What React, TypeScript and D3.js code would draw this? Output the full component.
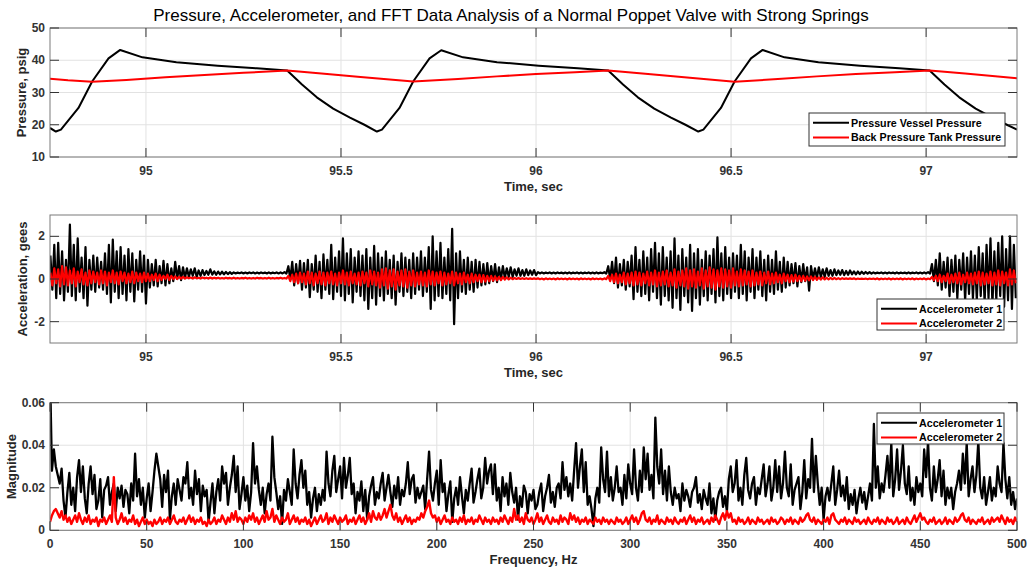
import React from 'react';
import * as d3 from 'd3';

const W = 1029;
const H = 575;
const PL = 50;
const PR = 1017;
const FONT = '"Liberation Sans", Arial, Helvetica, sans-serif';

// ---- panel 1: pressure traces (time, sec / psig) ----
const pvTime = [
  94.754, 94.769, 94.782, 94.827, 94.862, 94.904, 94.934, 94.991, 95.078, 95.184, 95.284, 95.362,
  95.4, 95.438, 95.48, 95.523, 95.56, 95.592,
  95.605, 95.65, 95.685, 95.727, 95.757, 95.813, 95.9, 96.007, 96.107, 96.185,
  96.223, 96.261, 96.303, 96.346, 96.383, 96.416,
  96.429, 96.474, 96.509, 96.551, 96.581, 96.637, 96.724, 96.831, 96.931, 97.009,
  97.047, 97.085, 97.127, 97.17, 97.207, 97.233,
];
const pvPsig = [
  19.0, 17.9, 18.5, 25.2, 33.4, 40.6, 43.2, 40.9, 39.4, 38.3, 37.5, 36.8,
  32.5, 28.5, 25.0, 22.2, 20.0, 17.9,
  18.5, 25.2, 33.4, 40.6, 43.1, 40.9, 39.4, 38.3, 37.5, 36.8,
  32.5, 28.5, 25.0, 22.2, 20.0, 17.9,
  18.5, 25.2, 33.4, 40.6, 43.2, 40.9, 39.4, 38.3, 37.5, 36.8,
  32.5, 28.5, 25.0, 22.2, 20.0, 18.5,
];
const bpTime = [
  94.754, 94.8, 94.862, 94.95, 95.05, 95.15, 95.25, 95.362, 95.45, 95.55, 95.685, 95.8, 95.9,
  96.0, 96.1, 96.185, 96.28, 96.38, 96.509, 96.62, 96.72, 96.82, 96.92, 97.009, 97.1, 97.233,
];
const bpPsig = [
  34.3, 33.8, 33.3, 33.9, 34.7, 35.4, 36.1, 36.8, 35.9, 34.8, 33.4, 34.2, 35.0,
  35.7, 36.3, 36.8, 35.8, 34.7, 33.3, 34.2, 35.0, 35.7, 36.3, 36.8, 35.9, 34.4,
];

// ---- panel 2: accelerometers, per 10 ms bin peak (hi) and trough (lo), gees ----
const accT0 = 94.755;
const accDt = 0.01;
const acc1Hi = [
  1.1, 1.6, 1.7, 1.3, 0.9, 2.55, 1.6, 1.9, 1.0, 1.5, 0.9, 1.1, 1.0, 0.8, 1.2, 1.6, 1.85, 1.3, 1.5, 1.1, 1.4, 1.2, 0.9, 1.3, 1.1,
  0.9, 0.7, 0.9, 0.6, 0.85, 0.7, 0.5, 0.8, 0.6, 0.55,
  0.5, 0.45, 0.5, 0.4, 0.42, 0.38, 0.45, 0.36, 0.35, 0.34, 0.33, 0.32,
  0.31, 0.3, 0.31, 0.3, 0.31, 0.31, 0.3, 0.31, 0.3, 0.31, 0.3, 0.31, 0.31, 0.32,
  0.6, 0.8, 0.7, 0.85, 0.75, 0.9, 0.7, 1.1, 0.8, 1.15, 0.9, 1.6, 1.0, 1.3, 1.9, 1.2, 1.4, 1.0, 1.3, 1.1,
  1.4, 1.0, 1.55, 1.2, 1.0, 1.3, 0.9, 1.1, 0.8, 1.2, 1.0, 0.9, 1.2, 1.0, 1.3, 1.0, 1.5, 2.0, 1.3, 1.7,
  1.0, 1.4, 2.35, 1.2, 1.3, 0.9, 1.0, 0.8, 0.9,
  0.8, 0.7, 0.75, 0.6, 0.7, 0.55, 0.6, 0.5, 0.55, 0.45, 0.5, 0.42, 0.45, 0.4, 0.42,
  0.32, 0.31, 0.3, 0.31, 0.3, 0.31, 0.3, 0.3, 0.31, 0.3, 0.31, 0.3, 0.3, 0.31, 0.3, 0.31, 0.3, 0.32,
  0.6, 0.8, 1.0, 0.7, 0.9, 0.8, 1.1, 1.5, 0.9, 1.3, 1.0, 1.4, 1.7, 1.2, 1.5, 1.0, 1.3, 1.9, 1.1, 1.4,
  1.0, 1.6, 1.2, 1.4, 0.9, 1.3, 1.1, 1.4, 1.95, 1.2, 1.5, 1.0, 1.2, 1.1, 1.6, 1.3, 1.0, 1.4, 1.0, 1.3,
  0.9, 1.1, 0.9, 1.3, 0.8, 1.0,
  0.8, 0.7, 0.75, 0.6, 0.7, 0.55, 0.6, 0.5, 0.55, 0.45, 0.5, 0.42, 0.45, 0.4, 0.42, 0.38, 0.4, 0.36, 0.35, 0.34, 0.33, 0.32,
  0.31, 0.3, 0.31, 0.3, 0.31, 0.3, 0.31, 0.3, 0.3, 0.31, 0.3, 0.31, 0.3, 0.31, 0.32,
  0.7, 0.9, 1.2, 0.8, 1.0, 0.9, 1.1, 0.9, 1.2, 1.0, 1.3, 1.1, 1.5, 1.2, 1.6, 1.9, 1.3, 1.7, 2.0, 1.4, 2.0, 1.6,
];
const acc1Lo = [
  -0.5, -0.9, -0.7, -1.0, -0.6, -0.8, -1.0, -0.6, -0.9, -1.25, -0.5, -0.6, -0.4, -0.5, -0.7, -1.1, -0.6, -0.9, -0.7, -1.0, -0.6, -1.05, -0.5, -0.6, -1.15,
  -0.4, -0.3, -0.35, -0.2, -0.3, -0.2, -0.1, 0.0, -0.05, 0.05,
  0.1, 0.15, 0.1, 0.15, 0.18, 0.2, 0.2, 0.2, 0.22, 0.22, 0.23, 0.24,
  0.26, 0.27, 0.26, 0.26, 0.27, 0.26, 0.26, 0.27, 0.26, 0.26, 0.27, 0.26, 0.26, 0.25,
  0.0, -0.3, -0.2, -0.5, -0.4, -0.85, -0.5, -0.6, -0.9, -0.5, -0.7, -0.95, -0.6, -0.8, -1.0, -0.7, -1.1, -0.6, -0.8, -1.0,
  -1.4, -0.9, -1.2, -0.8, -1.0, -0.7, -0.9, -1.2, -0.6, -0.8, -0.6, -0.9, -0.7, -0.5, -0.8, -0.6, -1.4, -1.0, -0.8, -0.9,
  -0.7, -1.0, -2.12, -0.9, -0.6, -0.7, -0.5, -0.6, -0.4,
  -0.3, -0.25, -0.2, -0.1, -0.15, 0.0, 0.05, 0.1, 0.1, 0.15, 0.15, 0.15, 0.18, 0.2, 0.18,
  0.26, 0.26, 0.27, 0.26, 0.26, 0.27, 0.26, 0.26, 0.26, 0.27, 0.26, 0.26, 0.27, 0.26, 0.26, 0.26, 0.27, 0.25,
  0.0, -0.2, -0.4, -0.3, -0.5, -0.35, -0.95, -0.6, -0.8, -0.7, -1.0, -0.6, -0.9, -1.2, -0.8, -1.0, -1.35, -0.9, -1.45, -0.8,
  -1.1, -1.5, -0.9, -1.2, -0.8, -1.0, -0.7, -1.1, -0.8, -1.0, -0.7, -0.9, -0.6, -0.9, -0.7, -1.0, -0.6, -0.9, -0.5, -0.8,
  -1.0, -0.6, -0.7, -0.5, -0.6, -0.4,
  -0.3, -0.2, -0.35, -0.15, -0.1, -0.55, 0.0, 0.05, 0.1, 0.1, 0.15, 0.15, 0.18, 0.2, 0.18, 0.2, 0.22, 0.22, 0.23, 0.24, 0.25, 0.25,
  0.26, 0.27, 0.26, 0.26, 0.27, 0.26, 0.26, 0.27, 0.26, 0.26, 0.27, 0.26, 0.26, 0.26, 0.25,
  -0.1, -0.3, -0.5, -0.4, -0.8, -0.6, -0.9, -0.5, -1.0, -0.7, -0.9, -1.0, -0.8, -1.1, -0.9, -1.2, -1.0, -0.8, -1.3, -1.0, -1.4, -0.9,
];
const acc2Hi = [
  0.3, 0.5, 0.45, 0.6, 0.55, 0.4, 0.5, 0.35, 0.45, 0.3, 0.4, 0.35, 0.3, 0.4, 0.35, 0.3, 0.4, 0.3, 0.35, 0.3, 0.25, 0.35, 0.3, 0.25, 0.3,
  0.25, 0.2, 0.25, 0.2, 0.15, 0.2, 0.15, 0.12, 0.1, 0.1,
  0.08, 0.07, 0.08, 0.06, 0.07, 0.06, 0.07, 0.06, 0.06, 0.05, 0.06, 0.05, 0.06, 0.05, 0.05, 0.06, 0.05, 0.05, 0.06, 0.05,
  0.05, 0.06, 0.05, 0.05, 0.06, 0.05,
  0.15, 0.2, 0.25, 0.3, 0.25, 0.35, 0.3, 0.25, 0.35, 0.3, 0.3, 0.35, 0.25, 0.3, 0.4, 0.3, 0.35, 0.25, 0.3, 0.35,
  0.3, 0.4, 0.35, 0.3, 0.45, 0.5, 0.4, 0.45, 0.35, 0.4, 0.45, 0.35, 0.4, 0.3, 0.35, 0.3, 0.4, 0.35, 0.3, 0.35,
  0.3, 0.25, 0.35, 0.3, 0.25, 0.3, 0.2, 0.25, 0.2,
  0.2, 0.18, 0.15, 0.15, 0.12, 0.1, 0.1, 0.08, 0.06, 0.05, 0.05, 0.04, 0.04, 0.03, 0.03,
  0.03, 0.02, 0.03, 0.02, 0.02, 0.03, 0.02, 0.02, 0.03, 0.02, 0.02, 0.03, 0.02, 0.02, 0.03, 0.02, 0.02, 0.03,
  0.15, 0.2, 0.25, 0.2, 0.3, 0.25, 0.3, 0.35, 0.3, 0.25, 0.35, 0.3, 0.4, 0.3, 0.35, 0.4, 0.3, 0.45, 0.35, 0.4,
  0.5, 0.4, 0.45, 0.35, 0.5, 0.4, 0.55, 0.45, 0.4, 0.5, 0.45, 0.4, 0.5, 0.35, 0.45, 0.4, 0.35, 0.4, 0.3, 0.35,
  0.3, 0.35, 0.25, 0.3, 0.2, 0.25,
  0.2, 0.18, 0.2, 0.15, 0.15, 0.12, 0.12, 0.1, 0.08, 0.08, 0.06, 0.05, 0.05, 0.04, 0.04, 0.03, 0.03, 0.03, 0.02, 0.02, 0.02, 0.02,
  0.02, 0.03, 0.02, 0.02, 0.03, 0.02, 0.02, 0.03, 0.02, 0.02, 0.03, 0.02, 0.02, 0.03, 0.02,
  0.1, 0.15, 0.2, 0.15, 0.25, 0.2, 0.25, 0.3, 0.2, 0.3, 0.25, 0.3, 0.35, 0.3, 0.25, 0.35, 0.3, 0.4, 0.35, 0.3, 0.45, 0.4,
];
const acc2Lo = [
  -0.3, -0.2, -0.35, -0.25, -0.3, -0.2, -0.35, -0.15, -0.25, -0.3, -0.2, -0.15, -0.25, -0.2, -0.3, -0.15, -0.2, -0.25, -0.1, -0.2, -0.15, -0.2, -0.1, -0.15, -0.1,
  -0.1, -0.05, -0.1, -0.05, 0, -0.05, 0, 0, 0.02, 0.02,
  0.03, 0.02, 0.03, 0.02, 0.03, 0.02, 0.02, 0.03, 0.02, 0.02, 0.03, 0.02, 0.02, 0.02, 0.03, 0.02, 0.02, 0.02, 0.03, 0.02,
  0.02, 0.02, 0.02, 0.03, 0.02, 0.02,
  -0.1, -0.15, -0.2, -0.15, -0.25, -0.2, -0.3, -0.2, -0.25, -0.3, -0.2, -0.25, -0.3, -0.2, -0.25, -0.3, -0.2, -0.25, -0.3, -0.2,
  -0.35, -0.25, -0.3, -0.4, -0.3, -0.45, -0.35, -0.5, -0.3, -0.35, -0.4, -0.3, -0.35, -0.25, -0.3, -0.35, -0.25, -0.3, -0.2, -0.3,
  -0.25, -0.2, -0.3, -0.2, -0.25, -0.15, -0.2, -0.15, -0.1,
  -0.15, -0.12, -0.1, -0.08, -0.06, -0.05, -0.03, -0.02, -0.01, 0, 0, 0, 0, 0, 0,
  -0.01, -0.02, -0.01, -0.01, -0.02, -0.01, -0.01, -0.02, -0.01, -0.01, -0.02, -0.01, -0.01, -0.02, -0.01, -0.01, -0.02, -0.01,
  -0.1, -0.15, -0.2, -0.15, -0.25, -0.2, -0.3, -0.25, -0.3, -0.2, -0.3, -0.25, -0.35, -0.3, -0.25, -0.35, -0.3, -0.4, -0.3, -0.35,
  -0.45, -0.35, -0.4, -0.3, -0.45, -0.35, -0.4, -0.5, -0.35, -0.4, -0.35, -0.4, -0.3, -0.35, -0.3, -0.25, -0.35, -0.3, -0.25, -0.3,
  -0.2, -0.25, -0.2, -0.15, -0.2, -0.1,
  -0.15, -0.12, -0.1, -0.1, -0.08, -0.06, -0.05, -0.04, -0.03, -0.02, -0.02, -0.01, -0.01, -0.01, 0, 0, 0, -0.01, 0, 0, -0.01, 0,
  -0.01, -0.02, -0.01, -0.01, -0.02, -0.01, -0.01, -0.02, -0.01, -0.01, -0.02, -0.01, -0.01, -0.02, -0.01,
  -0.05, -0.1, -0.15, -0.1, -0.2, -0.15, -0.2, -0.25, -0.15, -0.2, -0.25, -0.2, -0.3, -0.25, -0.2, -0.3, -0.25, -0.3, -0.2, -0.3, -0.25, -0.2,
];

// ---- panel 3: FFT magnitude x 1e-3, 1 Hz bins starting at 0 Hz ----
const fftAcc1 = [
  75, 28, 38, 30, 26, 22, 29, 14, 6, 18,
  27, 12, 20, 9, 25, 33, 18, 30, 15, 8,
  22, 30, 17, 26, 10, 14, 24, 6, 19, 21,
  25, 12, 18, 22, 9, 20, 15, 21, 11, 19,
  17, 8, 22, 14, 36, 16, 24, 12, 20, 6,
  15, 22, 9, 18, 28, 36, 30, 24, 11, 26,
  18, 28, 5, 16, 22, 12, 24, 19, 14, 25,
  22, 32, 15, 20, 12, 28, 17, 24, 9, 21,
  16, 19, 4, 13, 22, 8, 18, 24, 14, 30,
  22, 27, 12, 20, 26, 35, 18, 30, 10, 17,
  25, 14, 21, 9, 18, 41, 22, 30, 19, 12,
  20, 8, 17, 22, 14, 44, 25, 18, 10, 16,
  3, 19, 14, 24, 18, 12, 38, 22, 15, 26,
  33, 20, 28, 12, 18, 6, 15, 20, 9, 17,
  12, 19, 14, 37, 22, 16, 28, 35, 18, 24,
  30, 15, 34, 20, 26, 34, 17, 22, 8, 18,
  14, 23, 9, 19, 5, 16, 21, 25, 12, 18,
  15, 22, 27, 14, 20, 26, 18, 11, 21, 15,
  25, 12, 19, 16, 22, 32, 17, 24, 26, 13,
  20, 15, 18, 21, 10, 24, 37, 19, 14, 22,
  28, 12, 33, 18, 22, 9, 17, 23, 4, 15,
  20, 12, 25, 16, 8, 19, 14, 22, 29, 13,
  18, 24, 29, 15, 20, 34, 22, 28, 31, 17,
  31, 14, 20, 9, 25, 16, 22, 12, 27, 18,
  13, 20, 5, 16, 11, 21, 18, 8, 17, 14,
  19, 10, 12, 18, 22, 9, 16, 20, 26, 13,
  18, 11, 20, 22, 15, 32, 19, 25, 16, 22,
  14, 28, 41, 20, 30, 38, 18, 32, 12, 16,
  10, 2, 15, 20, 13, 39, 24, 18, 37, 16,
  25, 14, 20, 30, 18, 20, 12, 26, 15, 31,
  22, 17, 38, 20, 14, 28, 18, 39, 24, 36,
  19, 26, 15, 53, 30, 22, 38, 17, 28, 14,
  30, 18, 12, 20, 15, 17, 9, 22, 14, 19,
  16, 11, 18, 20, 25, 13, 17, 10, 19, 15,
  12, 22, 8, 15, 5, 14, 18, 20, 11, 16,
  9, 24, 30, 18, 22, 33, 14, 20, 12, 26,
  34, 19, 15, 22, 25, 12, 20, 17, 24, 31,
  16, 22, 30, 14, 20, 33, 18, 30, 15, 22,
  37, 20, 16, 31, 12, 19, 22, 25, 10, 18,
  33, 15, 24, 20, 43, 18, 35, 22, 12, 20,
  5, 16, 20, 14, 22, 30, 12, 19, 28, 16,
  21, 14, 25, 10, 17, 12, 19, 8, 15, 20,
  13, 18, 10, 16, 22, 14, 50, 20, 30, 15,
  22, 18, 26, 35, 20, 41, 16, 24, 38, 19,
  28, 40, 22, 17, 30, 14, 20, 12, 25, 18,
  22, 16, 38, 25, 42, 20, 14, 30, 18, 24,
  33, 16, 28, 12, 20, 15, 20, 10, 18, 22,
  28, 19, 36, 22, 41, 16, 24, 30, 18, 26,
  42, 20, 15, 25, 12, 18, 25, 14, 20, 16,
  30, 22, 18, 41, 24, 15, 25, 12, 18, 10,
  15,
];
const fftAcc2 = [
  4, 7, 9, 10, 8, 6, 9, 5, 7, 4,
  6, 3, 5, 7, 4, 8, 5, 3, 6, 4,
  7, 3, 5, 4, 6, 2, 5, 4, 6, 3,
  5, 7, 4, 25, 6, 3, 5, 8, 4, 6,
  3, 5, 4, 7, 3, 5, 2, 4, 6, 3,
  5, 3, 4, 2, 5, 3, 4, 6, 3, 5,
  4, 6, 3, 5, 7, 4, 3, 5, 4, 6,
  3, 5, 7, 4, 6, 3, 5, 4, 6, 3,
  4, 2, 5, 3, 4, 6, 3, 5, 4, 7,
  5, 3, 6, 4, 8, 5, 9, 4, 6, 5,
  3, 6, 4, 7, 5, 8, 4, 6, 3, 5,
  7, 4, 9, 5, 6, 10, 4, 7, 5, 3,
  6, 4, 5, 8, 3, 5, 7, 4, 6, 3,
  5, 4, 6, 3, 5, 2, 4, 6, 3, 5,
  7, 4, 5, 8, 3, 6, 4, 7, 5, 3,
  6, 4, 5, 7, 3, 5, 4, 6, 3, 5,
  7, 4, 6, 3, 5, 8, 4, 9, 6, 5,
  8, 5, 7, 10, 6, 9, 12, 7, 5, 8,
  4, 6, 3, 5, 7, 4, 6, 3, 5, 4,
  6, 5, 8, 6, 9, 11, 14, 8, 6, 7,
  4, 6, 3, 5, 7, 4, 5, 3, 6, 4,
  5, 3, 6, 4, 7, 3, 5, 4, 6, 3,
  5, 4, 7, 5, 3, 6, 4, 5, 3, 6,
  4, 5, 3, 6, 4, 7, 5, 3, 6, 4,
  10, 5, 7, 4, 6, 3, 8, 5, 4, 6,
  3, 5, 8, 4, 6, 3, 5, 7, 4, 3,
  6, 4, 5, 3, 7, 4, 6, 5, 3, 8,
  5, 7, 4, 6, 3, 5, 4, 6, 3, 5,
  4, 3, 6, 4, 5, 3, 6, 4, 5, 3,
  5, 4, 3, 6, 4, 5, 3, 4, 6, 3,
  5, 7, 4, 6, 3, 5, 8, 9, 5, 4,
  6, 3, 5, 4, 7, 3, 5, 4, 3, 6,
  4, 5, 3, 6, 4, 3, 5, 4, 6, 3,
  5, 7, 4, 6, 3, 5, 4, 6, 3, 4,
  5, 3, 6, 4, 7, 5, 3, 6, 8, 5,
  9, 6, 8, 4, 5, 3, 6, 4, 5, 3,
  4, 6, 3, 5, 4, 3, 6, 4, 5, 3,
  4, 5, 3, 6, 4, 5, 3, 4, 6, 5,
  3, 5, 4, 6, 3, 5, 4, 3, 6, 4,
  5, 7, 8, 5, 4, 6, 3, 5, 4, 3,
  5, 4, 6, 3, 7, 8, 5, 4, 3, 5,
  4, 6, 3, 5, 4, 3, 6, 4, 5, 3,
  4, 5, 3, 6, 4, 3, 5, 4, 6, 3,
  5, 4, 3, 6, 4, 5, 3, 4, 6, 3,
  4, 5, 3, 6, 4, 3, 5, 7, 4, 6,
  8, 5, 6, 4, 3, 5, 4, 6, 3, 4,
  5, 3, 4, 6, 3, 5, 4, 3, 6, 4,
  5, 7, 8, 5, 4, 6, 3, 5, 4, 3,
  5, 4, 6, 3, 4, 5, 3, 6, 4, 5,
  6, 4, 7, 5, 3, 6, 4, 5, 3, 6,
  4,
];

// ---- axes ticks ----
const timeTicks = [95, 95.5, 96, 96.5, 97];
const pressureTicks = [10, 20, 30, 40, 50];
const accTicks = [-2, 0, 2];
const freqTicks = [0, 50, 100, 150, 200, 250, 300, 350, 400, 450, 500];
const magTicks = [0, 0.02, 0.04, 0.06];

type Pt = [number, number];
type Series = { pts: Pt[]; color: string; width: number };
type Legend = { x0: number; x1: number; y0: number; y1: number; items: { text: string; color: string }[] };

const zip = (xs: number[], ys: number[]): Pt[] => xs.map((v, i) => [v, ys[i]] as Pt);

// peak/trough bins -> alternating samples
const zigzag = (hi: number[], lo: number[]): Pt[] => {
  const out: Pt[] = [];
  const n = Math.min(hi.length, lo.length);
  for (let i = 0; i < n; i++) {
    const t = accT0 + i * accDt;
    out.push([t, hi[i]]);
    out.push([t + accDt / 2, lo[i]]);
  }
  return out;
};

const fftPts = (mags: number[]): Pt[] => mags.map((m, f) => [f, m / 1000] as Pt);

interface PanelProps {
  id: string;
  top: number;
  bottom: number;
  xDomain: [number, number];
  yDomain: [number, number];
  xTicks: number[];
  yTicks: number[];
  xLabel: string;
  yLabel: string;
  yLabelX: number;
  series: Series[];
  legend: Legend;
}

const Panel: React.FC<PanelProps> = ({ id, top, bottom, xDomain, yDomain, xTicks, yTicks, xLabel, yLabel, yLabelX, series, legend }) => {
  const x = d3.scaleLinear().domain(xDomain).range([PL, PR]);
  const y = d3.scaleLinear().domain(yDomain).range([bottom, top]);
  const line = d3.line<Pt>().x(d => x(d[0])).y(d => y(d[1]));
  const tk = 9;
  const midY = (top + bottom) / 2;

  return (
    <g>
      <defs>
        <clipPath id={id}>
          <rect x={PL} y={top} width={PR - PL} height={bottom - top} />
        </clipPath>
      </defs>
      {xTicks.map(t => (
        <line key={'gx' + t} x1={x(t)} x2={x(t)} y1={top} y2={bottom} stroke="#e2e2e2" strokeWidth={1} />
      ))}
      {yTicks.map(t => (
        <line key={'gy' + t} x1={PL} x2={PR} y1={y(t)} y2={y(t)} stroke="#e2e2e2" strokeWidth={1} />
      ))}
      <g clipPath={`url(#${id})`}>
        {series.map((s, i) => (
          <path key={i} d={line(s.pts) || ''} fill="none" stroke={s.color} strokeWidth={s.width} strokeLinejoin="round" />
        ))}
      </g>
      <rect x={PL} y={top} width={PR - PL} height={bottom - top} fill="none" stroke="#7a7a7a" strokeWidth={1} />
      {xTicks.map(t => (
        <g key={'tx' + t}>
          <line x1={x(t)} x2={x(t)} y1={bottom} y2={bottom - tk} stroke="#333" />
          <line x1={x(t)} x2={x(t)} y1={top} y2={top + tk} stroke="#333" />
          <text x={x(t)} y={bottom + 18} textAnchor="middle" fontSize={12} fontWeight="bold" fill="#333">{String(t)}</text>
        </g>
      ))}
      {yTicks.map(t => (
        <g key={'ty' + t}>
          <line x1={PL} x2={PL + tk} y1={y(t)} y2={y(t)} stroke="#333" />
          <line x1={PR} x2={PR - tk} y1={y(t)} y2={y(t)} stroke="#333" />
          <text x={45} y={y(t) + 4} textAnchor="end" fontSize={12} fontWeight="bold" fill="#333">{String(t)}</text>
        </g>
      ))}
      <text x={(PL + PR) / 2} y={bottom + 34} textAnchor="middle" fontSize={13} fontWeight="bold" fill="#262626">{xLabel}</text>
      <text transform={`translate(${yLabelX},${midY}) rotate(-90)`} textAnchor="middle" fontSize={13} fontWeight="bold" fill="#262626">{yLabel}</text>
      <rect x={legend.x0} y={legend.y0} width={legend.x1 - legend.x0} height={legend.y1 - legend.y0} fill="#fff" stroke="#333" strokeWidth={1} />
      {legend.items.map((it, i) => {
        const cy = legend.y0 + 9.7 + 14.8 * i;
        return (
          <g key={it.text}>
            <line x1={legend.x0 + 4} x2={legend.x0 + 40} y1={cy} y2={cy} stroke={it.color} strokeWidth={2} />
            <text x={legend.x0 + 42} y={cy + 3.8} fontSize={10.7} fontWeight="bold" fill="#000">{it.text}</text>
          </g>
        );
      })}
    </g>
  );
};

export default function App() {
  const timeDomain: [number, number] = [94.754, 97.233];
  return (
    <div style={{ position: 'fixed', left: 0, top: 0 }}>
      <svg width={W} height={H} viewBox={`0 0 ${W} ${H}`} style={{ display: 'block', background: '#fff', fontFamily: FONT }}>
        <rect x={0} y={0} width={W} height={H} fill="#fff" />
        <text x={511} y={20.5} textAnchor="middle" fontSize={17} fill="#000">
          Pressure, Accelerometer, and FFT Data Analysis of a Normal Poppet Valve with Strong Springs
        </text>
        <Panel
          id="clipP"
          top={28}
          bottom={157}
          xDomain={timeDomain}
          yDomain={[10, 50]}
          xTicks={timeTicks}
          yTicks={pressureTicks}
          xLabel="Time, sec"
          yLabel="Pressure, psig"
          yLabelX={26}
          series={[
            { pts: zip(pvTime, pvPsig), color: '#000', width: 2 },
            { pts: zip(bpTime, bpPsig), color: '#f00', width: 2 },
          ]}
          legend={{
            x0: 809, x1: 1005, y0: 113, y1: 146,
            items: [
              { text: 'Pressure Vessel Pressure', color: '#000' },
              { text: 'Back Pressure Tank Pressure', color: '#f00' },
            ],
          }}
        />
        <Panel
          id="clipA"
          top={215}
          bottom={343}
          xDomain={timeDomain}
          yDomain={[-3, 3]}
          xTicks={timeTicks}
          yTicks={accTicks}
          xLabel="Time, sec"
          yLabel="Acceleration, gees"
          yLabelX={26.5}
          series={[
            { pts: zigzag(acc1Hi, acc1Lo), color: '#000', width: 2.2 },
            { pts: zigzag(acc2Hi, acc2Lo), color: '#f00', width: 2.2 },
          ]}
          legend={{
            x0: 877, x1: 1004, y0: 299, y1: 330,
            items: [
              { text: 'Accelerometer 1', color: '#000' },
              { text: 'Accelerometer 2', color: '#f00' },
            ],
          }}
        />
        <Panel
          id="clipF"
          top={402.7}
          bottom={530.3}
          xDomain={[0, 500]}
          yDomain={[0, 0.06]}
          xTicks={freqTicks}
          yTicks={magTicks}
          xLabel="Frequency, Hz"
          yLabel="Magnitude"
          yLabelX={15.5}
          series={[
            { pts: fftPts(fftAcc1), color: '#000', width: 2.3 },
            { pts: fftPts(fftAcc2), color: '#f00', width: 2.4 },
          ]}
          legend={{
            x0: 877, x1: 1004, y0: 413, y1: 444,
            items: [
              { text: 'Accelerometer 1', color: '#000' },
              { text: 'Accelerometer 2', color: '#f00' },
            ],
          }}
        />
      </svg>
    </div>
  );
}
